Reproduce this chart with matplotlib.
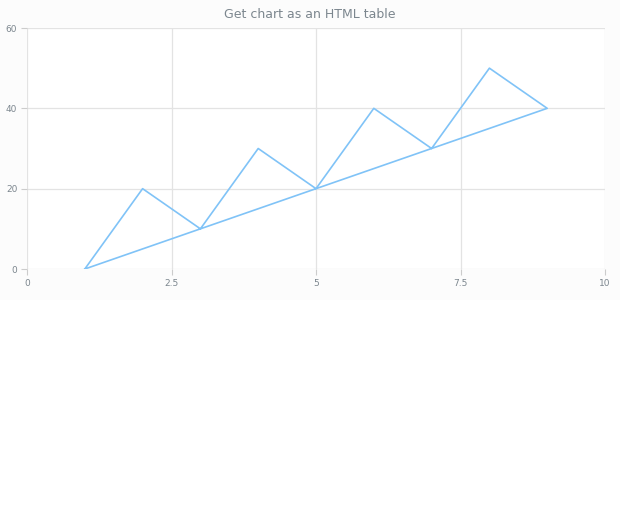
import matplotlib
matplotlib.use("Agg")
from matplotlib import pyplot as plt
from matplotlib.patches import Rectangle

# data: the series closes back on its first point
x_vals = [1, 2, 3, 4, 5, 6, 7, 8, 9, 1]
y_vals = [0, 20, 10, 30, 20, 40, 30, 50, 40, 0]
x_ticks = [0, 2.5, 5, 7.5, 10]
x_labels = ["0", "2.5", "5", "7.5", "10"]
y_ticks = [0, 20, 40, 60]
title = "Get chart as an HTML table"

fig = plt.figure(figsize=(6.2, 5.11), dpi=100)
# faint chart background panel (upper part only)
fig.patches.append(Rectangle((0, 1 - 300 / 511), 1, 300 / 511, transform=fig.transFigure,
                             facecolor="#fcfcfc", edgecolor="none", zorder=-10))
ax = fig.add_axes([27 / 620, 1 - 269 / 511, 578 / 620, 241 / 511])
ax.set_facecolor("white")

ax.plot(x_vals, y_vals, color="#80c3f7", lw=1.2)

ax.set_xlim(0, 10)
ax.set_ylim(0, 60)
ax.set_xticks(x_ticks)
ax.set_xticklabels(x_labels)
ax.set_yticks(y_ticks)
ax.grid(True, color="#e3e3e3", lw=0.9)
ax.set_axisbelow(True)
for s in ax.spines.values():
    s.set_visible(False)
ax.tick_params(colors="#cccccc", labelcolor="#7c868e", labelsize=6.5, length=4, width=0.8, pad=3)

fig.text(0.5, 1 - 14 / 511, title, ha="center", va="center", color="#7c868e", fontsize=9)

fig.savefig("out.png", dpi=100)
